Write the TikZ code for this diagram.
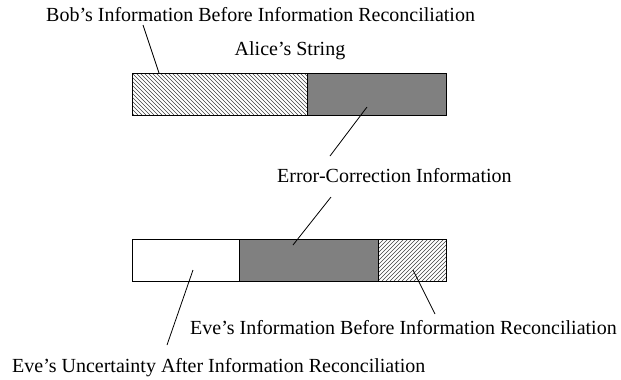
\documentclass[tikz,border=0pt]{standalone}
\usepackage{fontspec}
\setmainfont{Liberation Serif}
\begin{document}
\begin{tikzpicture}[x=1bp,y=-1bp,
  lbl/.style={font=\fontsize{20bp}{24bp}\selectfont, inner sep=0, anchor=base west},
  seg/.style={draw=black, line width=1bp, inner sep=0, anchor=north west, minimum height=42bp},
  hatchline/.style={line width=0.55bp, draw=black!75},
  grayseg/.style={fill=black!50},
  lead/.style={line width=0.8bp}]
\useasboundingbox (0,0) rectangle (621,379);
% hatching of Bob's part (top left)
\begin{scope}
  \clip (132,73) rectangle (307,115);
  \foreach \x in {88,92,...,308} { \draw[hatchline] (\x,73) -- ++(42,42); }
\end{scope}
% hatching of Eve's information (bottom right)
\begin{scope}
  \clip (378,239) rectangle (446,281);
  \foreach \x in {334,338,...,446} { \draw[hatchline] (\x,281) -- ++(42,-42); }
\end{scope}
% top bar
\node[seg, minimum width=175bp] (bobA) at (132,73) {};
\node[seg, grayseg, minimum width=139bp] (ecA) at (307,73) {};
% bottom bar
\node[seg, minimum width=107bp] (unc) at (132,239) {};
\node[seg, grayseg, minimum width=139bp] (ecB) at (239,239) {};
\node[seg, minimum width=68bp] (eveI) at (378,239) {};
% labels
\node[lbl] (tBob) at (46,21.5) {Bob’s Information Before Information Reconciliation};
\node[lbl, anchor=base] (tAlice) at (290,55) {Alice’s String};
\node[lbl] (tErr) at (277,182) {Error-Correction Information};
\node[lbl] (tEveI) at (190,334) {Eve’s Information Before Information Reconciliation};
\node[lbl] (tUnc) at (12,372) {Eve’s Uncertainty After Information Reconciliation};
% leader end points
\coordinate (b1) at (143,25);  \coordinate (b2) at (159,73);
\coordinate (e1) at (367,107); \coordinate (e2) at (330,156);
\coordinate (e3) at (331,197); \coordinate (e4) at (293,245);
\coordinate (u1) at (193,270); \coordinate (u2) at (167,345);
\coordinate (i1) at (413,270); \coordinate (i2) at (435,314);
\draw[lead] (b1) -- (b2);
\draw[lead] (e1) -- (e2);
\draw[lead] (e3) -- (e4);
\draw[lead] (u1) -- (u2);
\draw[lead] (i1) -- (i2);
\end{tikzpicture}
\end{document}
